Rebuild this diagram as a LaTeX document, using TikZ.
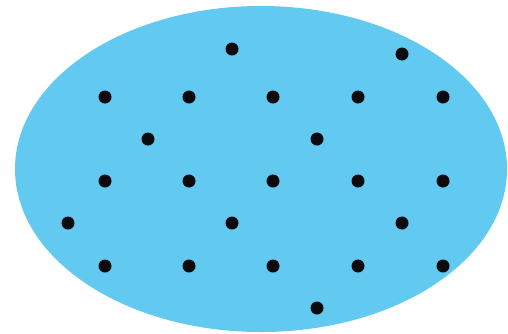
\documentclass[tikz,border=0pt]{standalone}
\definecolor{skyfill}{RGB}{98,201,240}
\definecolor{dotcol}{RGB}{10,10,15}
\begin{document}
\begin{tikzpicture}[x=1pt,y=-1pt,
  dotnode/.style={circle,fill=dotcol,inner sep=0pt,minimum size=13pt}]
\useasboundingbox (0,0) rectangle (508,333);
\fill[white] (0,0) rectangle (508,333);
\fill[skyfill] (261,169) ellipse [x radius=246, y radius=163];
\foreach \x/\y [count=\i] in {232/49,402/54,
  105/97,189/97,273/97,358/97,443/97,
  148/139,317/139,
  105/181,189/181,273/181,358/181,443/181,
  68/223,232/223,402/223,
  105/266,189/266,273/266,358/266,443/266,
  317/308}
  \node[dotnode] (d\i) at (\x,\y) {};
\end{tikzpicture}
\end{document}
